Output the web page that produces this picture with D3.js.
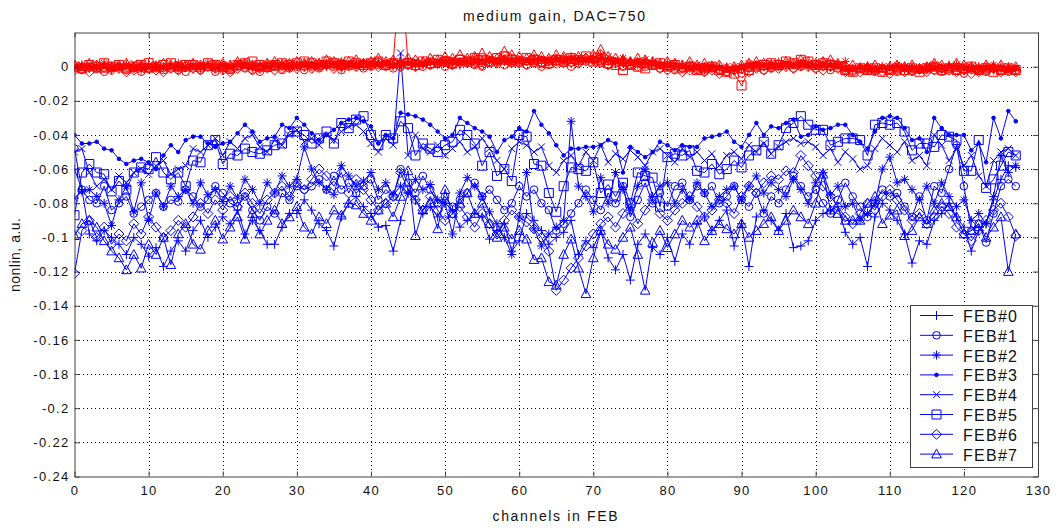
<!DOCTYPE html>
<html>
<head>
<meta charset="utf-8">
<script src="https://cdn.jsdelivr.net/npm/d3@7"></script>
<style>
  body { margin: 0; background: #fff; }
  text { font-family: Arial, "Liberation Sans", sans-serif; fill: #111; }
</style>
</head>
<body>
<script>
// ***************************************
//   DATA  (nonlinearity per channel, in units of 1e-3 a.u.)
// ***************************************
const channelCount = 128;
const febNames = ["FEB#0", "FEB#1", "FEB#2", "FEB#3", "FEB#4", "FEB#5", "FEB#6", "FEB#7"];
const febMarkers = ["plus", "circle", "asterisk", "dot", "x", "square", "diamond", "triangle"];
const xTicks = [0, 10, 20, 30, 40, 50, 60, 70, 80, 90, 100, 110, 120, 130];
const yTicks = [0, -0.02, -0.04, -0.06, -0.08, -0.1, -0.12, -0.14, -0.16, -0.18, -0.2, -0.22, -0.24];

// blue curves
const blue0 = [
  -60,-72,-98,-102,-96,-100,-104,-110,-100,-104,-111,-106,-117,-108,-102,-108,
  -96,-90,-100,-94,-88,-92,-84,-98,-90,-96,-104,-104,-94,-86,-86,-78,
  -84,-92,-96,-105,-88,-80,-76,-82,-86,-94,-93,-108,-90,-74,-78,-86,
  -82,-88,-80,-84,-94,-90,-86,-88,-101,-96,-92,-108,-102,-86,-90,-96,
  -104,-100,-97,-90,-110,-102,-106,-96,-112,-119,-110,-125,-104,-98,-106,-110,
  -100,-114,-98,-104,-92,-88,-96,-90,-84,-105,-92,-117,-88,-84,-90,-96,
  -86,-106,-105,-102,-90,-86,-84,-82,-97,-104,-100,-117,-88,-80,-84,-90,
  -98,-115,-102,-104,-90,-86,-80,-88,-94,-108,-96,-92,-78,-66,-58,-59];
const blue1 = [
  -48,-72,-78,-80,-70,-84,-80,-76,-86,-82,-78,-74,-82,-78,-79,-72,
  -76,-82,-78,-70,-74,-80,-82,-76,-84,-90,-82,-86,-74,-78,-70,-72,
  -70,-66,-72,-64,-72,-68,-74,-70,-66,-78,-72,-76,-60,-68,-74,-64,
  -72,-80,-76,-82,-78,-74,-68,-76,-72,-78,-84,-80,-70,-76,-72,-80,
  -84,-96,-92,-86,-80,-72,-78,-84,-74,-80,-70,-88,-78,-68,-80,-74,
  -82,-70,-68,-78,-70,-74,-70,-80,-76,-70,-78,-82,-74,-86,-76,-80,
  -72,-64,-70,-76,-72,-80,-86,-78,-68,-76,-82,-88,-80,-72,-76,-74,
  -82,-88,-76,-90,-70,-74,-60,-46,-70,-96,-92,-103,-86,-70,-66,-70];
const blue2 = [
  -77,-73,-72,-76,-80,-93,-78,-70,-85,-68,-90,-74,-82,-70,-76,-72,
  -80,-68,-75,-72,-79,-70,-77,-66,-72,-80,-68,-74,-64,-70,-66,-47,
  -60,-68,-72,-75,-58,-64,-70,-67,-62,-72,-68,-75,-70,-74,-66,-72,
  -69,-78,-80,-98,-74,-65,-70,-76,-85,-92,-100,-110,-88,-62,-95,-105,
  -98,-94,-90,-32,-70,-76,-85,-65,-80,-62,-72,-84,-70,-60,-76,-70,
  -68,-80,-72,-78,-68,-74,-82,-76,-72,-70,-78,-70,-64,-74,-68,-72,
  -76,-66,-72,-80,-68,-62,-75,-70,-82,-80,-90,-86,-80,-60,-53,-68,
  -66,-72,-78,-70,-80,-68,-76,-82,-78,-90,-86,-92,-76,-52,-62,-58];
const blue3 = [
  -40,-45,-45,-44,-48,-49,-54,-57,-55,-54,-56,-60,-52,-46,-50,-43,
  -41,-41,-45,-47,-45,-44,-39,-34,-38,-44,-42,-41,-34,-36,-30,-34,
  -39,-43,-40,-37,-33,-31,-30,-32,-35,-45,-40,-42,-27,-28,-29,-31,
  -34,-38,-42,-40,-30,-33,-36,-38,-41,-50,-43,-41,-36,-38,-26,-34,
  -39,-46,-52,-48,-48,-47,-47,-46,-43,-45,-62,-47,-50,-53,-50,-44,
  -46,-49,-46,-47,-47,-42,-41,-40,-38,-44,-47,-40,-33,-40,-35,-36,
  -33,-31,-41,-40,-35,-37,-36,-34,-34,-40,-44,-48,-38,-30,-29,-30,
  -36,-43,-42,-50,-30,-36,-40,-40,-40,-49,-45,-56,-30,-42,-26,-32];
const blue4 = [
  -50,-48,-62,-70,-66,-72,-64,-68,-62,-60,-63,-58,-55,-63,-60,-58,
  -48,-50,-46,-42,-52,-44,-48,-42,-40,-47,-50,-43,-46,-40,-37,-44,
  -42,-46,-40,-43,-38,-35,-34,-38,-45,-50,-42,-46,8,-52,-40,-48,
  -50,-46,-52,-48,-44,-50,-47,-42,-48,-55,-60,-48,-44,-46,-50,-47,
  -58,-62,-55,-52,-58,-50,-55,-46,-56,-51,-54,-49,-53,-58,-50,-48,
  -52,-56,-48,-53,-50,-55,-51,-58,-52,-50,-54,-46,-50,-45,-51,-47,
  -44,-42,-45,-44,-47,-52,-48,-56,-50,-54,-60,-58,-48,-42,-46,-50,
  -44,-55,-52,-58,-40,-46,-55,-48,-58,-52,-64,-70,-55,-50,-48,-52];
const blue5 = [
  -87,-62,-57,-62,-63,-73,-67,-72,-62,-59,-60,-53,-62,-66,-62,-70,
  -55,-56,-46,-43,-57,-51,-52,-48,-50,-51,-49,-46,-45,-38,-38,-40,
  -45,-42,-38,-45,-33,-36,-31,-29,-40,-46,-40,-42,-32,-36,-52,-45,
  -48,-50,-46,-44,-37,-40,-45,-58,-50,-64,-60,-67,-40,-41,-57,-58,
  -74,-85,-70,-59,-60,-61,-56,-74,-69,-76,-68,-80,-62,-64,-65,-82,
  -53,-51,-52,-49,-61,-62,-57,-63,-60,-55,-59,-52,-49,-44,-51,-46,
  -36,-33,-29,-34,-37,-37,-46,-44,-42,-42,-43,-52,-34,-33,-34,-33,
  -38,-49,-45,-45,-47,-40,-41,-43,-61,-61,-43,-71,-66,-58,-50,-52];
const blue6 = [
  -121,-96,-90,-100,-94,-104,-98,-102,-92,-98,-88,-94,-100,-96,-90,-94,
  -88,-80,-86,-78,-84,-76,-82,-74,-80,-86,-78,-74,-70,-76,-68,-72,
  -66,-60,-64,-70,-62,-74,-66,-72,-78,-84,-80,-76,-62,-72,-78,-84,
  -76,-84,-90,-86,-82,-88,-94,-86,-92,-98,-90,-84,-88,-91,-95,-100,
  -108,-131,-125,-118,-112,-105,-98,-92,-88,-94,-86,-80,-92,-84,-78,-86,
  -90,-84,-80,-76,-82,-88,-84,-78,-80,-86,-76,-70,-74,-68,-64,-66,
  -61,-62,-52,-58,-64,-70,-76,-82,-88,-92,-86,-80,-84,-76,-72,-78,
  -84,-90,-86,-92,-88,-82,-86,-94,-98,-102,-96,-90,-84,-80,-88,-99];
const blue7 = [
  -99,-92,-90,-94,-102,-108,-112,-119,-110,-118,-104,-110,-100,-116,-98,-92,
  -104,-107,-96,-90,-101,-94,-88,-101,-86,-98,-90,-84,-92,-88,-82,-94,
  -98,-88,-92,-84,-87,-80,-81,-86,-90,-84,-80,-88,-76,-61,-99,-84,
  -80,-95,-72,-86,-80,-74,-86,-80,-92,-100,-94,-101,-96,-101,-113,-112,
  -126,-128,-110,-101,-118,-133,-112,-96,-104,-107,-100,-94,-110,-131,-103,-96,
  -106,-98,-90,-94,-90,-102,-96,-92,-95,-98,-92,-100,-96,-92,-88,-96,
  -90,-84,-88,-92,-80,-63,-84,-86,-90,-90,-90,-80,-76,-92,-87,-84,
  -99,-96,-88,-92,-84,-80,-82,-88,-98,-96,-92,-100,-94,-88,-120,-98];

// red curves
const red0 = [
  1,0,-1,0,1,-2,0,1,-1,0,2,-1,0,1,-1,0,
  0,-1,1,0,-2,1,0,1,-1,0,2,1,0,-1,1,0,
  1,2,0,1,-1,1,2,0,1,2,1,0,1,2,0,1,
  2,1,3,2,1,3,2,4,3,2,4,3,2,3,4,3,
  4,3,5,4,3,4,6,5,3,2,4,3,1,2,3,1,
  2,0,1,-1,0,-2,-1,0,-1,-3,-1,0,1,0,-1,1,
  0,1,2,0,1,2,0,1,-1,-2,-1,0,-2,-1,0,-1,
  -2,0,-1,-2,0,-1,1,0,-1,-2,0,-1,-2,0,-1,-2];
const red1 = [
  -1,-2,0,-1,-3,-1,0,-2,-1,-3,-1,0,-2,-1,-2,-3,
  -1,-2,0,-3,-1,-2,0,-1,-2,-3,-1,0,-2,-1,0,-2,
  0,-1,1,0,-2,0,1,-1,0,1,0,-1,0,1,2,0,
  1,2,0,1,3,2,1,0,2,3,1,2,3,1,2,0,
  1,3,2,0,2,3,4,2,1,3,0,1,2,0,1,-1,
  0,-2,-1,0,-2,-3,-1,-2,-3,-2,-4,-1,0,-2,-1,0,
  1,-1,0,1,-1,0,-2,1,-2,-3,-1,-2,-3,-1,-2,-3,
  -1,-3,-2,-1,-2,-3,-1,-2,-4,-1,-2,-3,-1,-2,-3,-2];
const red2 = [
  0,1,-1,0,2,0,-1,1,0,-2,0,1,-1,0,2,0,
  1,0,2,-1,1,0,1,2,0,1,-1,1,2,0,1,2,
  1,0,2,1,3,1,0,2,1,3,2,1,2,3,1,2,
  3,2,4,3,2,3,5,3,4,2,3,5,4,3,5,4,
  3,5,4,6,4,3,5,7,4,3,5,2,3,4,2,1,
  1,2,0,1,-1,0,1,-1,0,-1,0,2,1,0,2,1,
  2,1,0,2,1,0,2,1,3,-1,0,-1,-2,0,-1,1,
  0,-1,-2,0,1,-1,0,1,-1,0,-2,0,1,-1,0,-1];
const red3 = [
  -1,0,1,-1,0,-1,1,0,-1,1,0,-1,0,1,0,-1,
  0,1,0,-1,1,0,2,1,0,1,0,2,1,0,1,1,
  2,1,0,2,1,2,1,3,2,1,2,1,3,2,2,1,
  2,3,2,4,3,2,3,4,3,4,5,3,4,4,3,5,
  4,5,3,4,5,4,3,5,4,3,2,4,3,2,1,2,
  1,0,1,-1,0,1,-1,0,-2,-1,0,1,2,1,0,1,
  2,1,2,0,1,2,1,0,-1,-1,0,-2,-1,0,-1,0,
  -1,0,-1,-2,-1,0,0,-1,0,-1,-2,-1,0,-1,-2,-1];
const red4 = [
  0,-1,1,-2,0,1,-1,0,2,0,-1,1,0,-1,1,0,
  -1,1,0,2,0,-1,1,0,2,1,0,-1,1,2,0,1,
  0,2,1,3,2,0,1,2,3,1,2,3,1,2,3,2,
  4,2,3,1,3,4,2,3,5,4,3,2,4,3,5,4,
  3,4,2,5,3,4,2,3,6,4,3,2,3,1,2,0,
  -1,1,0,-1,1,-2,0,-1,-2,0,-1,1,0,2,1,0,
  1,0,2,1,0,1,2,0,-2,-1,-2,0,-1,-2,0,-1,
  0,-2,-1,0,-1,-2,0,1,-1,-2,0,-1,-1,0,-2,-1];
const red5 = [
  0,-1,1,0,2,0,1,-1,0,1,2,0,1,2,0,1,
  1,0,2,1,0,-1,1,2,3,1,0,1,2,1,2,3,
  2,1,3,2,1,3,2,1,2,3,1,2,62,2,1,3,
  2,4,3,2,4,3,5,4,3,5,6,4,3,5,4,3,
  2,4,3,5,4,6,3,4,2,1,-2,1,0,-1,1,2,
  0,1,-1,0,-2,-1,0,-2,-3,-4,-11,-2,0,1,2,1,
  3,2,4,3,1,2,1,0,-2,-3,-1,-2,-1,-3,-2,-1,
  -2,-1,-3,-1,0,-2,-1,-2,-1,0,-2,-1,-3,-2,-1,-2];
const red6 = [
  -2,-1,-3,-1,0,-2,-1,-3,-2,0,-1,-2,-3,-1,-2,0,
  -1,-2,0,-1,-2,-3,-1,0,-2,-1,0,-2,-1,0,-1,0,
  -1,0,1,-1,0,1,0,2,1,0,1,2,0,1,0,2,
  1,2,3,1,2,3,2,1,3,2,4,3,2,1,3,2,
  3,2,4,3,2,5,4,3,1,2,3,1,0,2,1,-1,
  -2,-1,-3,-2,-1,-3,-2,-4,-3,-2,-1,-3,-1,-2,0,-1,
  0,-1,1,0,-1,-2,0,-1,-3,-2,-3,-1,-2,-3,-4,-2,
  -3,-2,-1,-3,-2,-1,-2,-3,-2,-4,-3,-2,-1,-3,-2,-3];
const red7 = [
  1,0,2,1,-1,0,1,2,0,1,-1,0,2,1,0,1,
  2,1,0,1,2,1,3,2,1,0,2,3,1,2,3,2,
  3,2,4,3,2,3,4,2,3,5,3,4,3,5,4,3,
  5,4,6,5,7,5,6,8,6,5,9,7,6,5,7,6,
  5,7,6,4,6,5,7,10,6,5,4,3,5,4,3,2,
  3,2,1,3,1,2,0,1,-1,0,1,2,3,2,1,2,
  3,2,4,3,2,3,4,2,0,1,-1,0,1,-1,0,1,
  0,1,-1,0,2,1,0,2,1,0,-1,1,0,1,-1,0];

const blueSeries = [blue0, blue1, blue2, blue3, blue4, blue5, blue6, blue7];
const redSeries = [red0, red1, red2, red3, red4, red5, red6, red7];

// ***************************************
//       DIMENSIONS
// ***************************************
const width = 1060;
const height = 528;
const plotLeft = 74.5;
const plotRight = 1038;
const plotTop = 32.5;
const plotBottom = 476.5;

const svg = d3.select("body")
  .append("svg")
  .attr("width", width)
  .attr("height", height);

const x = d3.scaleLinear().domain([0, 130]).range([plotLeft, plotRight]);
const y = d3.scaleLinear().domain([-0.24, 0.02]).range([plotBottom, plotTop]);
const px = v => Math.round(v) + 0.5;

// ***************************************
//       GRID
// ***************************************
const grid = svg.append("g")
  .attr("stroke", "#000")
  .attr("stroke-width", 1)
  .attr("stroke-dasharray", "1,3")
  .attr("shape-rendering", "crispEdges");

grid.selectAll(".vgrid")
  .data(xTicks.slice(1, -1))
  .enter().append("line")
  .attr("x1", d => px(x(d))).attr("x2", d => px(x(d)))
  .attr("y1", plotTop).attr("y2", plotBottom);

grid.selectAll(".hgrid")
  .data(yTicks.slice(0, -1))
  .enter().append("line")
  .attr("y1", d => px(y(d))).attr("y2", d => px(y(d)))
  .attr("x1", plotLeft).attr("x2", plotRight);

// ***************************************
//       MARKERS
// ***************************************
function markerPath(type) {
  switch (type) {
    case "plus": return "M-4.5,0H4.5M0,-4.5V4.5";
    case "circle": return "M3.8,0A3.8,3.8,0,1,1,-3.8,0A3.8,3.8,0,1,1,3.8,0Z";
    case "asterisk": return "M-4.5,0H4.5M0,-4.5V4.5M-3.2,-3.2L3.2,3.2M-3.2,3.2L3.2,-3.2";
    case "dot": return "M1.8,0A1.8,1.8,0,1,1,-1.8,0A1.8,1.8,0,1,1,1.8,0Z";
    case "x": return "M-3.5,-3.5L3.5,3.5M-3.5,3.5L3.5,-3.5";
    case "square": return "M-4.5,-4.5H4.5V4.5H-4.5Z";
    case "diamond": return "M0,-5L5,0L0,5L-5,0Z";
    case "triangle": return "M0,-5L4.8,3.8H-4.8Z";
  }
}

// ***************************************
//       CURVES
// ***************************************
svg.append("clipPath").attr("id", "plotClip")
  .append("rect")
  .attr("x", plotLeft).attr("y", plotTop)
  .attr("width", plotRight - plotLeft).attr("height", plotBottom - plotTop);

const plot = svg.append("g").attr("clip-path", "url(#plotClip)");

const line = d3.line()
  .x((d, i) => x(i))
  .y(d => y(d / 1000));

function drawSeries(values, k, color) {
  const g = plot.append("g");
  g.append("path")
    .attr("d", line(values.slice(0, channelCount)))
    .attr("fill", "none")
    .attr("stroke", color)
    .attr("stroke-width", 1);
  g.selectAll("path.mk")
    .data(values)
    .enter().append("path")
    .attr("class", "mk")
    .attr("transform", (d, i) => "translate(" + x(i) + "," + y(d / 1000) + ")")
    .attr("d", markerPath(febMarkers[k]))
    .attr("fill", febMarkers[k] === "dot" ? color : "none")
    .attr("stroke", color)
    .attr("stroke-width", 1);
}

blueSeries.forEach((s, k) => drawSeries(s, k, "#0000ff"));
redSeries.forEach((s, k) => drawSeries(s, k, "#ff0000"));

// ***************************************
//       AXES
// ***************************************
const axisColor = "#404040";

function styleAxis(g) {
  g.select(".domain").attr("stroke", axisColor);
  g.selectAll(".tick line").attr("stroke", axisColor);
  g.selectAll("text")
    .attr("fill", "#111")
    .style("font-family", "Arial, 'Liberation Sans', sans-serif")
    .style("font-size", "13px")
    .style("letter-spacing", "1.3px");
}

svg.append("g")
  .attr("transform", "translate(0," + plotBottom + ")")
  .call(d3.axisBottom(x).tickValues(xTicks).tickSize(-5).tickSizeOuter(0).tickPadding(9).tickFormat(d => String(d)))
  .call(styleAxis);

svg.append("g")
  .attr("transform", "translate(" + plotLeft + ",0)")
  .call(d3.axisLeft(y).tickValues(yTicks).tickSize(-5).tickSizeOuter(0).tickPadding(5).tickFormat(d => String(d)))
  .call(styleAxis);

svg.append("g")
  .attr("transform", "translate(0," + plotTop + ")")
  .call(d3.axisTop(x).tickValues(xTicks).tickSize(-5).tickSizeOuter(0).tickFormat(""))
  .call(styleAxis);

svg.append("g")
  .attr("transform", "translate(" + plotRight + ",0)")
  .call(d3.axisRight(y).tickValues(yTicks).tickSize(-5).tickSizeOuter(0).tickFormat(""))
  .call(styleAxis);

// ***************************************
//       TITLES
// ***************************************
svg.append("text")
  .attr("x", 554).attr("y", 20.5)
  .attr("text-anchor", "middle")
  .attr("textLength", 182).attr("lengthAdjust", "spacing")
  .style("font-size", "14px")
  .text("medium gain, DAC=750");

svg.append("text")
  .attr("x", 555).attr("y", 521)
  .attr("text-anchor", "middle")
  .attr("textLength", 125).attr("lengthAdjust", "spacing")
  .style("font-size", "14px")
  .text("channels in FEB");

svg.append("text")
  .attr("transform", "translate(20,255) rotate(-90)")
  .attr("text-anchor", "middle")
  .attr("textLength", 74).attr("lengthAdjust", "spacing")
  .style("font-size", "14px")
  .text("nonlin, a.u.");

// ***************************************
//       LEGEND
// ***************************************
const legend = svg.append("g");
legend.append("rect")
  .attr("x", 910.5).attr("y", 305.5)
  .attr("width", 122).attr("height", 162)
  .attr("fill", "#fff")
  .attr("stroke", axisColor);

const items = legend.selectAll(".legend-item")
  .data(febNames)
  .enter().append("g")
  .attr("transform", (d, i) => "translate(0," + (315.5 + i * 19.8) + ")");

items.append("line")
  .attr("x1", 920).attr("x2", 953)
  .attr("stroke", "#0000ff").attr("stroke-width", 1);

items.append("path")
  .attr("transform", "translate(936.5,0)")
  .attr("d", (d, i) => markerPath(febMarkers[i]))
  .attr("fill", (d, i) => febMarkers[i] === "dot" ? "#0000ff" : "none")
  .attr("stroke", "#0000ff").attr("stroke-width", 1);

items.append("text")
  .attr("x", 963).attr("y", 6.5)
  .attr("textLength", 54).attr("lengthAdjust", "spacing")
  .style("font-size", "16px")
  .text(d => d);
</script>
</body>
</html>
